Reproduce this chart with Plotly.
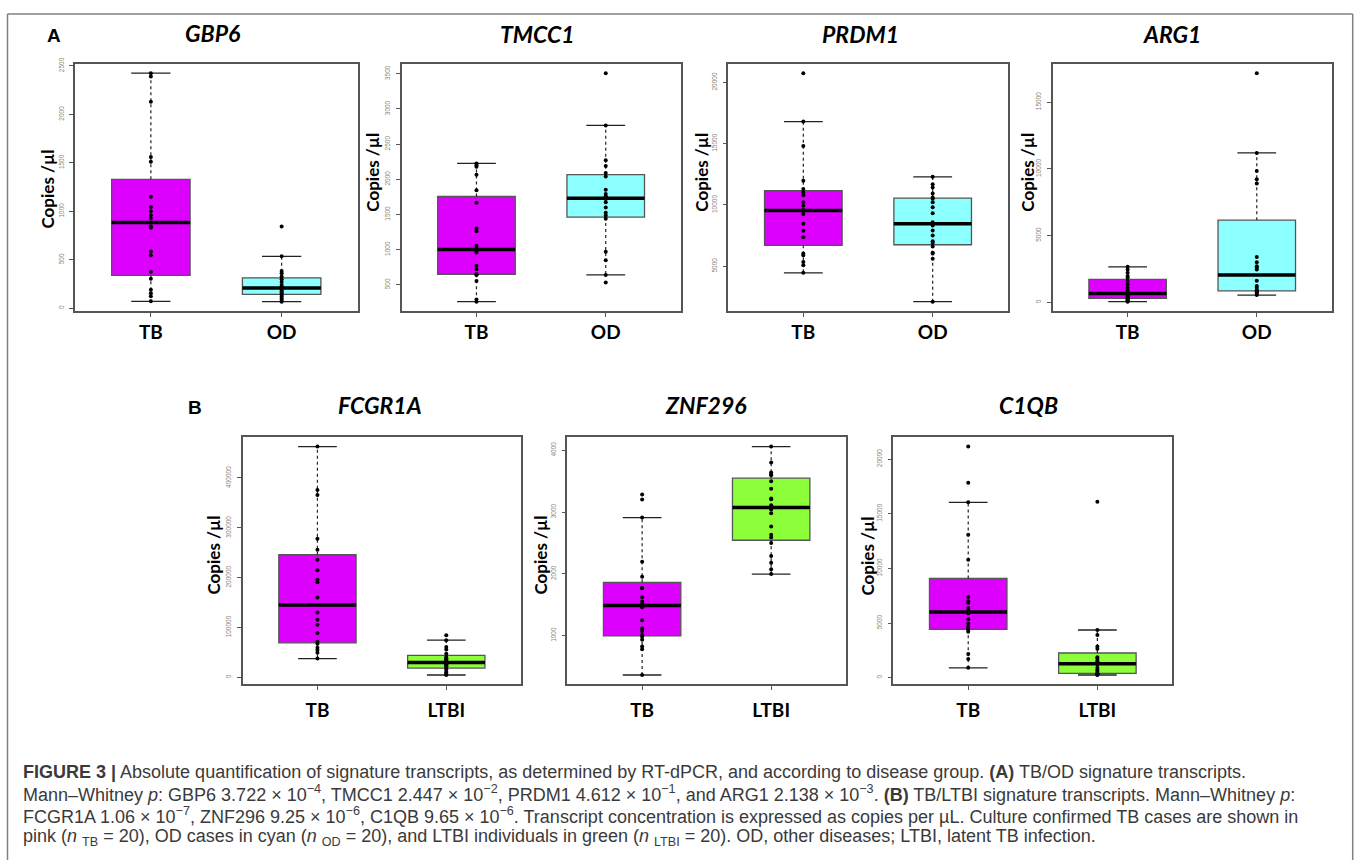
import plotly.graph_objects as go
import numpy as np

# ---------------- data (copies / µl) ----------------
genes = ["GBP6", "TMCC1", "PRDM1", "ARG1", "FCGR1A", "ZNF296", "C1QB"]
groups_A = ["TB", "OD"]
groups_B = ["TB", "LTBI"]

gbp6_tb = [72, 125, 155, 190, 305, 375, 546, 585, 830, 845, 925, 960, 1000, 1045, 1150, 1510, 1560, 2130, 2390, 2425]
gbp6_od = [68, 85, 100, 120, 140, 146, 160, 175, 190, 205, 211, 222, 240, 270, 300, 328, 360, 385, 536, 843]

tmcc1_tb = [260, 290, 555, 640, 648, 652, 720, 770, 960, 985, 1020, 1055, 1260, 1300, 1665, 1845, 2065, 2180, 2200, 2225]
tmcc1_od = [532, 640, 850, 970, 1440, 1486, 1525, 1600, 1675, 1720, 1742, 1760, 1790, 1850, 2040, 2090, 2190, 2270, 2766, 3509]

prdm1_tb = [4460, 5080, 5350, 5890, 6030, 7375, 7900, 8460, 9270, 9500, 9580, 9945, 10215, 10800, 11025, 11300, 11973, 14810, 16810, 20760]
prdm1_od = [2107, 5620, 6030, 6100, 6620, 6890, 7030, 7510, 7920, 8320, 8600, 9320, 9810, 10215, 10515, 10620, 10945, 11430, 11700, 12296]

arg1_tb = [50, 100, 150, 200, 250, 340, 420, 500, 580, 640, 690, 860, 1100, 1350, 1600, 1840, 1970, 2210, 2460, 2656]
arg1_od = [541, 640, 738, 800, 840, 882, 910, 1100, 1230, 1620, 2460, 2600, 2705, 3000, 3400, 8902, 9222, 9836, 11188, 17164]

fcgr1a_tb = [37600, 49400, 55000, 59300, 67200, 71200, 89000, 105400, 115300, 130000, 160000, 191000, 196000, 215000, 236000, 256000, 278000, 366000, 376000, 463000]
fcgr1a_ltbi = [4600, 6600, 9000, 11200, 16000, 20900, 22000, 24000, 26400, 28500, 30800, 33000, 36200, 38000, 40900, 47400, 56000, 60600, 74470, 84350]

znf296_tb = [362, 780, 825, 931, 980, 1010, 1074, 1117, 1250, 1460, 1518, 1553, 1622, 1766, 1770, 1954, 2197, 2910, 3202, 3282]
znf296_ltbi = [1995, 2074, 2181, 2287, 2500, 2586, 2633, 2766, 2979, 3040, 3108, 3207, 3220, 3378, 3500, 3596, 3617, 3640, 3803, 4059]

c1qb_tb = [902, 1715, 2166, 4211, 4400, 4444, 4662, 4963, 5354, 5900, 6132, 6377, 6858, 7000, 7370, 10800, 13085, 16050, 17837, 21146]
c1qb_ltbi = [241, 280, 300, 340, 380, 402, 602, 700, 900, 1200, 1326, 1354, 1500, 1715, 1865, 2650, 2858, 3910, 4362, 16093]

y_dticks = [500, 500, 5000, 5000, 100000, 1000, 5000]

panel_values = [
    (gbp6_tb, gbp6_od), (tmcc1_tb, tmcc1_od), (prdm1_tb, prdm1_od), (arg1_tb, arg1_od),
    (fcgr1a_tb, fcgr1a_ltbi), (znf296_tb, znf296_ltbi), (c1qb_tb, c1qb_ltbi),
]
panel_groups = [groups_A] * 4 + [groups_B] * 3

# ---------------- styling / layout ----------------
W, H = 1360, 860
COL = {"TB": "#DD00FF", "OD": "#8CFFFF", "LTBI": "#8CFF3A"}
# plot boxes in pixels: (x0, x1, y0, y1)
boxes = [
    (75, 357.5, 57.5, 306.3), (401.5, 680.7, 57.5, 306.3), (728.3, 1007.7, 57.5, 306.3),
    (1052.7, 1331.7, 57.5, 306.3),
    (242.7, 521, 434, 682.7), (567.3, 846, 434, 682.7), (893.3, 1172.3, 434, 682.7),
]
xlab_standoff = [0, 0, 0, 0, 4, 4, 4]
title_pos = [(213, 26), (537, 27), (860, 27), (1172, 27), (380, 401), (706, 401), (1028, 401)]
ylab_pos = [(48, 184), (373, 167), (702, 167), (1028, 167), (213, 553), (540, 553), (867, 553)]
BOXW = 0.6
CAPW = 0.3


def px(x):
    return x / W


def py(y):
    return 1 - y / H


def fivenum(v):
    s = np.sort(np.asarray(v, dtype=float))
    n = len(s)
    n4 = np.floor((n + 3) / 2) / 2
    d = np.array([1, n4, (n + 1) / 2, n + 1 - n4, n]) - 1
    return 0.5 * (s[np.floor(d).astype(int)] + s[np.ceil(d).astype(int)])


def box_stats(v):
    f = fivenum(v)
    q1, med, q3 = f[1], f[2], f[3]
    iqr = q3 - q1
    arr = np.asarray(v, dtype=float)
    inside = arr[(arr >= q1 - 1.5 * iqr) & (arr <= q3 + 1.5 * iqr)]
    return q1, med, q3, inside.min(), inside.max()


fig = go.Figure()
layout_axes = {}
annotations = []

for i, (gene, vals, grps) in enumerate(zip(genes, panel_values, panel_groups)):
    k = "" if i == 0 else str(i + 1)
    xa, ya = "x" + k, "y" + k
    x0, x1, y0, y1 = boxes[i]
    allv = np.concatenate([np.asarray(v, float) for v in vals])
    lo, hi = allv.min(), allv.max()
    pad = 0.04 * (hi - lo)
    for j, (g, v) in enumerate(zip(grps, vals)):
        pos = j + 1
        q1, med, q3, lw, uw = box_stats(v)
        fig.add_trace(go.Box(
            x=[pos], q1=[q1], median=[med], q3=[q3], lowerfence=[q1], upperfence=[q3],
            width=BOXW, whiskerwidth=0, fillcolor=COL[g], boxpoints=False,
            line=dict(color="#555555", width=1.3), xaxis=xa, yaxis=ya,
            showlegend=False, hoverinfo="skip"))
        fig.add_trace(go.Scatter(
            x=[pos, pos, None, pos, pos], y=[q3, uw, None, q1, lw], mode="lines",
            line=dict(color="#222222", width=1.2, dash="dot"), xaxis=xa, yaxis=ya,
            showlegend=False, hoverinfo="skip"))
        fig.add_trace(go.Scatter(
            x=[pos - CAPW / 2, pos + CAPW / 2, None, pos - CAPW / 2, pos + CAPW / 2],
            y=[uw, uw, None, lw, lw], mode="lines",
            line=dict(color="#222222", width=1.3), xaxis=xa, yaxis=ya,
            showlegend=False, hoverinfo="skip"))
        fig.add_trace(go.Scatter(
            x=[pos - BOXW / 2, pos + BOXW / 2], y=[med, med], mode="lines",
            line=dict(color="#000000", width=3.5), xaxis=xa, yaxis=ya,
            showlegend=False, hoverinfo="skip"))
        fig.add_trace(go.Scatter(
            x=[pos] * len(v), y=v, mode="markers",
            marker=dict(color="#000000", size=4), xaxis=xa, yaxis=ya,
            showlegend=False, hoverinfo="skip"))

    layout_axes["xaxis" + k] = dict(
        domain=[px(x0), px(x1)], range=[0.42, 2.58], anchor=ya,
        showline=True, mirror=True, linecolor="#555555", linewidth=1.6,
        ticks="outside", ticklen=4, tickcolor="#555555", tickwidth=1,
        tickvals=[1, 2], ticktext=["<b>%s</b>" % g for g in grps],
        tickfont=dict(family="Lato", size=19, color="#000000"),
        ticklabelstandoff=xlab_standoff[i], showgrid=False, zeroline=False, fixedrange=True)
    layout_axes["yaxis" + k] = dict(
        domain=[py(y1), py(y0)], range=[lo - pad, hi + pad], anchor=xa,
        showline=True, mirror=True, linecolor="#555555", linewidth=1.6,
        ticks="outside", ticklen=4, tickcolor="#555555", tickwidth=1,
        tick0=0, dtick=y_dticks[i], tickformat="d", tickangle=-90,
        tickfont=dict(family="Liberation Sans", size=6.5, color="#8a8478"),
        ticklabelstandoff=3, showgrid=False, zeroline=False, fixedrange=True)

    tx, ty = title_pos[i]
    annotations.append(dict(
        x=px(tx), y=py(ty), xref="paper", yref="paper", showarrow=False,
        text="<b><i>%s</i></b>" % gene, font=dict(family="Lato", size=23, color="#000000"),
        xanchor="center", yanchor="middle"))
    lx, ly = ylab_pos[i]
    annotations.append(dict(
        x=px(lx), y=py(ly), xref="paper", yref="paper", showarrow=False,
        text="<b>Copies /µl</b>", textangle=-90,
        font=dict(family="Lato", size=17, color="#000000"),
        xanchor="center", yanchor="middle"))

# panel letters
annotations.append(dict(x=px(54), y=py(29), xref="paper", yref="paper", showarrow=False,
                        text="<b>A</b>", font=dict(family="Liberation Sans", size=19, color="#000"),
                        xanchor="center", yanchor="middle"))
annotations.append(dict(x=px(195), y=py(404), xref="paper", yref="paper", showarrow=False,
                        text="<b>B</b>", font=dict(family="Liberation Sans", size=19, color="#000"),
                        xanchor="center", yanchor="middle"))

caption = [
    "<b>FIGURE 3 |</b> Absolute quantification of signature transcripts, as determined by RT-dPCR, "
    "and according to disease group. <b>(A)</b> TB/OD signature transcripts.",
    "Mann–Whitney <i>p</i>: GBP6 3.722 × 10<sup>−4</sup>, TMCC1 2.447 × 10<sup>−2</sup>, "
    "PRDM1 4.612 × 10<sup>−1</sup>, and ARG1 2.138 × 10<sup>−3</sup>. <b>(B)</b> TB/LTBI signature "
    "transcripts. Mann–Whitney <i>p</i>:",
    "FCGR1A 1.06 × 10<sup>−7</sup>, ZNF296 9.25 × 10<sup>−6</sup>, C1QB 9.65 × 10<sup>−6</sup>. "
    "Transcript concentration is expressed as copies per µL. Culture confirmed TB cases are shown in",
    "pink (<i>n</i> <sub>TB</sub> = 20), OD cases in cyan (<i>n</i> <sub>OD</sub> = 20), and LTBI "
    "individuals in green (<i>n</i> <sub>LTBI</sub> = 20). OD, other diseases; LTBI, latent TB infection.",
]
cap_y = [771, 793, 815, 837]
for t, yy in zip(caption, cap_y):
    annotations.append(dict(x=px(21), y=py(yy), xref="paper", yref="paper", showarrow=False,
                            text=t, align="left", xanchor="left", yanchor="middle",
                            font=dict(family="Liberation Sans", size=18, color="#3a3a3a")))

shapes = [
    dict(type="line", xref="paper", yref="paper", x0=px(7.5), x1=px(7.5), y0=py(7), y1=py(862),
         line=dict(color="#808080", width=1.5)),
    dict(type="line", xref="paper", yref="paper", x0=px(1352.7), x1=px(1352.7), y0=py(7), y1=py(862),
         line=dict(color="#808080", width=1.5)),
    dict(type="line", xref="paper", yref="paper", x0=px(7.5), x1=px(1352.7), y0=py(7), y1=py(7),
         line=dict(color="#808080", width=1.5)),
]

fig.update_layout(
    width=W, height=H, margin=dict(l=0, r=0, t=0, b=0),
    paper_bgcolor="white", plot_bgcolor="white", showlegend=False,
    annotations=annotations, shapes=shapes, **layout_axes)

fig.write_html("out.html")
